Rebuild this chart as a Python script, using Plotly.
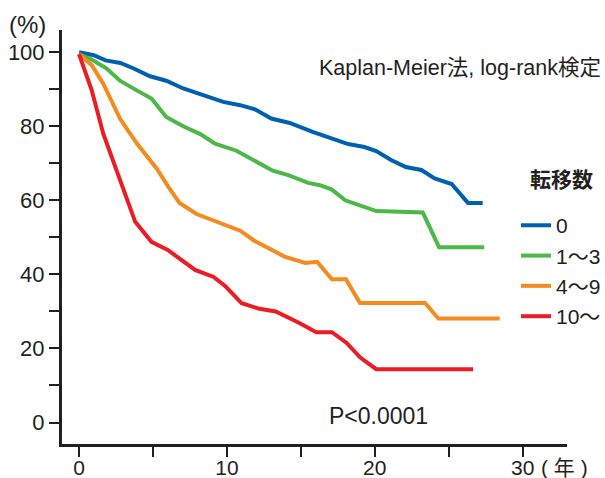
import plotly.graph_objects as go

# ---- data ----
series_names = ["0", "1〜3", "4〜9", "10〜"]

t_0 = [0, 1.0, 1.8, 2.8, 3.7, 4.8, 5.9, 7.05, 8.4, 9.75, 10.9, 11.9, 13.0, 14.25, 15.8, 17.2,
       18.2, 19.3, 20.1, 21.1, 22.1, 23.15, 24.05, 25.2, 26.3, 27.3]
s_0 = [100, 99.2, 97.8, 97.1, 95.6, 93.5, 92.3, 90.2, 88.4, 86.6, 85.7, 84.6, 82.1, 80.9, 78.5, 76.7,
       75.2, 74.4, 73.3, 70.9, 69.0, 68.2, 65.9, 64.4, 59.3, 59.3]

t_1_3 = [0, 0.86, 1.87, 2.77, 3.9, 4.9, 5.9, 7.05, 8.2, 9.2, 10.65, 12.0, 13.1, 14.15, 15.5, 16.3,
         17.1, 18.0, 19.0, 20.1, 23.25, 24.35, 27.4]
s_1_3 = [99.5, 98, 95.6, 92.3, 89.7, 87.5, 82.5, 80, 77.9, 75.3, 73.4, 70.4, 68.0, 66.8, 64.7, 64.1,
         62.9, 60.0, 58.7, 57.1, 56.7, 47.3, 47.3]

t_4_9 = [0, 0.86, 1.64, 2.77, 3.9, 5.25, 6.03, 6.8, 7.95, 9.3, 10.9, 11.85, 13.9, 15.3, 16.1, 17.1,
         18.05, 19.0, 23.4, 24.3, 28.45]
s_4_9 = [99.5, 96.5, 91.5, 82.1, 75.4, 68.6, 63.7, 59.3, 56.3, 54.2, 51.8, 49.1, 44.8, 43.1, 43.4, 38.7,
         38.7, 32.3, 32.3, 28.1, 28.1]

t_10 = [0, 0.86, 1.64, 2.77, 3.8, 4.9, 6.0, 7.85, 9.1, 9.9, 11.0, 12.2, 13.3, 14.9, 16.05, 17.1,
        18.1, 19.0, 20.1, 26.65]
s_10 = [99.5, 89.7, 78.0, 65.5, 54.2, 48.8, 46.6, 41.2, 39.3, 36.8, 32.2, 30.7, 30.0, 26.9, 24.4, 24.4,
        21.5, 17.6, 14.4, 14.4]

x_ticks = [0, 10, 20, 30]
y_ticks = [0, 20, 40, 60, 80, 100]

colors = ["#0060b0", "#4cb848", "#f58a1f", "#ec1c24"]
INK = "#231f20"
FONT = "Liberation Sans, Noto Sans CJK JP, sans-serif"
CJK = "Noto Sans CJK JP, sans-serif"

fig = go.Figure()
for i, (name, t, s) in enumerate(zip(series_names, [t_0, t_1_3, t_4_9, t_10], [s_0, s_1_3, s_4_9, s_10])):
    fig.add_trace(go.Scatter(x=t, y=s, mode="lines", name=name, legendgroup=f"g{i}",
                             line=dict(color=colors[i], width=4)))

axis_common = dict(showline=True, linecolor=INK, linewidth=3, ticks="outside", ticklen=10,
                   tickwidth=2, tickcolor=INK, showgrid=False, zeroline=False, automargin=False)

fig.update_xaxes(range=[-1.15, 33.0], tickvals=x_ticks, ticktext=[str(v) for v in x_ticks],
                 ticklabelstandoff=-7, tickfont=dict(family=FONT, size=21, color=INK),
                 minor=dict(tickvals=[5, 15, 25], ticks="outside", ticklen=10, tickwidth=2, tickcolor=INK),
                 **axis_common)
fig.update_yaxes(range=[-5.8, 106], tickvals=y_ticks, ticktext=[str(v) for v in y_ticks],
                 tickfont=dict(family=FONT, size=22, color=INK),
                 minor=dict(tickvals=[10, 30, 50, 70, 90], ticks="outside", ticklen=10, tickwidth=2, tickcolor=INK),
                 **axis_common)

fig.update_layout(
    width=605, height=478,
    margin=dict(l=62, r=38, t=30, b=34, autoexpand=False),
    paper_bgcolor="white", plot_bgcolor="white",
    showlegend=True,
    legend=dict(x=0.899, y=0.577, xanchor="left", yanchor="top",
                font=dict(family=FONT, size=21, color=INK),
                tracegroupgap=0, bgcolor="rgba(0,0,0,0)"),
    annotations=[
        dict(text="<b>転移数</b>", xref="paper", yref="paper", x=(561 - 62) / 505, y=(444 - 178) / 414,
             xanchor="center", yanchor="middle", showarrow=False,
             font=dict(family=CJK, size=21, color=INK)),
        dict(text="Kaplan-Meier法, log-rank検定", xref="paper", yref="paper", x=(603 - 62) / 505,
             y=(444 - 68) / 414, xanchor="right", yanchor="middle", showarrow=False,
             font=dict(family=FONT, size=21.5, color=INK)),
        dict(text="(%)", xref="paper", yref="paper", x=(27 - 62) / 505, y=(444 - 25) / 414,
             xanchor="center", yanchor="middle", showarrow=False,
             font=dict(family=FONT, size=24, color=INK)),
        dict(text="( 年 )", xref="paper", yref="paper", x=(539 - 62) / 505, y=(444 - 467) / 414,
             xanchor="left", yanchor="middle", showarrow=False,
             font=dict(family=FONT, size=21, color=INK)),
        dict(text="P<0.0001", xref="paper", yref="paper", x=(378 - 62) / 505, y=(444 - 416) / 414,
             xanchor="center", yanchor="middle", showarrow=False,
             font=dict(family=FONT, size=23, color=INK)),
    ],
)

fig.write_html("out.html", config={"displayModeBar": False},
               post_script="document.body.style.margin='0px';document.body.style.overflow='hidden';")
